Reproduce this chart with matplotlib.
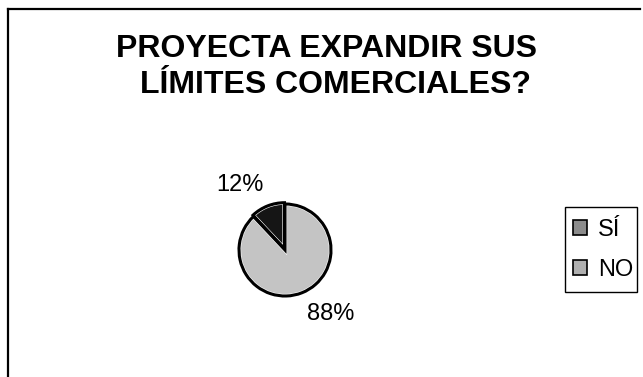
import matplotlib.pyplot as plt
from matplotlib.patches import Patch, Rectangle
from matplotlib.lines import Line2D

plt.rcParams['font.family'] = ['Liberation Sans', 'DejaVu Sans']

# data
categories = ["SÍ", "NO"]
values = [12, 88]
title_lines = ["PROYECTA EXPANDIR SUS", "LÍMITES COMERCIALES?"]

W, H = 643, 377
fig = plt.figure(figsize=(W / 100, H / 100), dpi=100)
fig.patch.set_facecolor("white")

# frame of the scanned chart (top and left edges only)
fig.add_artist(Line2D([8 / W, 640 / W], [1 - 9 / H, 1 - 9 / H], color="black", lw=1.6))
fig.add_artist(Line2D([8 / W, 8 / W], [0, 1 - 9 / H], color="black", lw=1.6))

# title, one text per line (second line sits a bit to the right)
for line, (px, py) in zip(title_lines, [(327, 57), (336, 93)]):
    fig.text(px / W, 1 - py / H, line, ha="center", va="baseline", fontsize=23,
             fontweight="bold")

# pie axes: centre (285, 250) px, radius 46 px
cx, cy, r = 285, 250, 46
side = 140
ax = fig.add_axes([(cx - side / 2) / W, (H - cy - side / 2) / H, side / W, side / H])
lim = side / 2 / r

colors = ["#151515", "#c4c4c4"]
ax.pie(values, colors=colors, startangle=90, counterclock=True,
       explode=[0.03, 0], radius=1, frame=True,
       wedgeprops=dict(edgecolor="white", linewidth=3))
# thick black outlines on top
ax.pie(values, colors=["none", "none"], startangle=90, counterclock=True,
       explode=[0.03, 0], radius=1, frame=True,
       wedgeprops=dict(edgecolor="black", linewidth=2.2, fill=False))
ax.set_xlim(-lim, lim)
ax.set_ylim(-lim, lim)
ax.set_aspect("equal")
ax.axis("off")

# percentage labels
label_pos = [(240, 185), (331, 314)]
for v, (px, py) in zip(values, label_pos):
    fig.text(px / W, 1 - py / H, f"{v}%", ha="center", va="center", fontsize=17)

# legend: box drawn by hand, entries by matplotlib
fig.add_artist(Rectangle((565 / W, 1 - 292 / H), 72 / W, 85 / H, transform=fig.transFigure,
                         facecolor="white", edgecolor="black", lw=1.0))
handles = [Patch(facecolor="#8c8c8c", edgecolor="black", lw=1.2),
           Patch(facecolor="#b0b0b0", edgecolor="black", lw=1.2)]
leg = fig.legend(handles, categories, loc="upper left",
                 bbox_to_anchor=(566 / W, 1 - 212 / H), fontsize=17,
                 frameon=False, handlelength=0.6, handleheight=0.6,
                 handletextpad=0.45, labelspacing=0.75, borderpad=0.3,
                 borderaxespad=0)

fig.savefig("out.png", dpi=100)
